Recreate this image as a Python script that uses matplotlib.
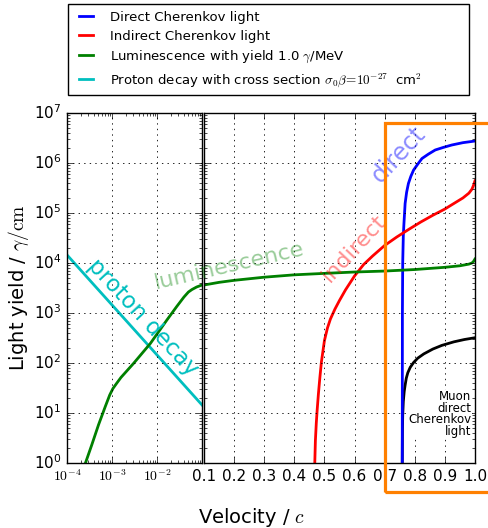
import matplotlib
matplotlib.use("Agg")
import matplotlib.pyplot as plt
from matplotlib.patches import Rectangle

plt.style.use("classic")
plt.rcParams["mathtext.fontset"] = "cm"
plt.rcParams["font.family"] = "DejaVu Sans"

# ---- data ----
# low-velocity panel (log velocity axis)
proton_v = [1e-4, 0.1]
proton_y = [1.45e4, 14.5]

lum_lo_v = [2.4e-4, 2.57e-4, 3.55e-4, 5.0e-4, 7.1e-4, 8.9e-4, 1.05e-3, 1.26e-3,
            1.58e-3, 3.0e-3, 7.1e-3, 1.66e-2, 2.75e-2, 3.98e-2, 5.0e-2, 6.0e-2,
            7.6e-2, 0.1]
lum_lo_y = [0.83, 1.0, 2.3, 5.75, 13.5, 22.9, 30.9, 38.9,
            51.3, 97.7, 245, 724, 1350, 2090, 2630, 2950,
            3310, 3630]

# high-velocity panel (linear velocity axis)
lum_hi_v = [0.1, 0.15, 0.2, 0.3, 0.4, 0.5, 0.6, 0.7, 0.8, 0.9,
            0.95, 0.98, 0.99, 0.995, 1.0]
lum_hi_y = [3630, 4100, 4500, 5200, 5800, 6200, 6600, 6900, 7400, 8200,
            8800, 9500, 10000, 10700, 12000]

indirect_v = [0.467, 0.468, 0.470, 0.473, 0.476, 0.480, 0.485, 0.49, 0.50,
              0.51, 0.52, 0.535, 0.55, 0.57, 0.60, 0.63, 0.66, 0.70, 0.74,
              0.78, 0.82, 0.86, 0.90, 0.93, 0.96, 0.98, 0.99, 0.995, 1.0]
indirect_y = [0.7, 1, 2.8, 6.3, 11.7, 24, 52, 105, 280,
              500, 760, 1200, 1780, 2900, 5500, 9300, 13800, 22400, 33000,
              47000, 66000, 90000, 1.2e5, 1.55e5, 2.0e5, 2.5e5, 3.0e5, 3.55e5, 4.4e5]

direct_v = [0.7585, 0.759, 0.760, 0.762, 0.764, 0.768, 0.773, 0.779, 0.787,
            0.796, 0.81, 0.824, 0.845, 0.868, 0.895, 0.923, 0.96, 1.0]
direct_y = [1, 1e3, 1e4, 3.5e4, 6e4, 1.55e5, 2.6e5, 3.9e5, 5.4e5,
            7.2e5, 9.5e5, 1.23e6, 1.5e6, 1.82e6, 2.05e6, 2.29e6, 2.55e6, 2.75e6]

muon_v = [0.7585, 0.759, 0.760, 0.762, 0.765, 0.768, 0.772, 0.777, 0.785,
          0.796, 0.81, 0.83, 0.86, 0.89, 0.93, 0.965, 1.0]
muon_y = [1, 4, 9, 17, 27, 36, 50, 64, 82,
          102, 125, 152, 190, 225, 265, 295, 320]

lo_ticks = [1e-4, 1e-3, 1e-2, 1e-1]
lo_ticklabels = [r"$10^{-4}$", r"$10^{-3}$", r"$10^{-2}$", ""]
hi_ticks = [0.1, 0.2, 0.3, 0.4, 0.5, 0.6, 0.7, 0.8, 0.9, 1.0]
hi_ticklabels = ["0.1", "0.2", "0.3", "0.4", "0.5", "0.6", "0.7", "0.8", "0.9", "1.0"]

legend_labels = [
    "Direct Cherenkov light",
    "Indirect Cherenkov light",
    r"Luminescence with yield 1.0 $\gamma$/MeV",
    r"Proton decay with cross section $\sigma_0\beta\!=\!10^{-27}\ $ cm$^2$",
]

fig = plt.figure(figsize=(4.88, 5.28), dpi=100, facecolor="w")
ax1 = fig.add_axes([0.1373, 0.1231, 0.2766, 0.6629])
ax2 = fig.add_axes([0.4180, 0.1231, 0.5553, 0.6629])

lw = 2.0

# left panel
l_prot, = ax1.plot(proton_v, proton_y, color="c", lw=lw)
ax1.plot(lum_lo_v, lum_lo_y, color="g", lw=lw)
ax1.set_xscale("log")
ax1.set_yscale("log")
ax1.set_xlim(1e-4, 0.1)
ax1.set_ylim(1, 1e7)
ax1.set_xticks(lo_ticks)
ax1.set_xticklabels(lo_ticklabels, fontsize=10)
ax1.tick_params(axis="y", labelsize=11)
ax1.grid(True, which="major", color="k", linestyle=":", linewidth=0.6)

# right panel
ax2.plot(muon_v, muon_y, color="k", lw=lw)
l_dir, = ax2.plot(direct_v, direct_y, color="b", lw=lw)
l_ind, = ax2.plot(indirect_v, indirect_y, color="r", lw=lw)
l_lum, = ax2.plot(lum_hi_v, lum_hi_y, color="g", lw=lw)
ax2.set_yscale("log")
ax2.set_xlim(0.1, 1.0)
ax2.set_ylim(1, 1e7)
ax2.set_xticks(hi_ticks)
ax2.set_xticklabels(hi_ticklabels, fontsize=11)
ax2.tick_params(axis="y", labelleft=False)
ax2.grid(True, which="major", color="k", linestyle=":", linewidth=0.6)

for ax in (ax1, ax2):
    ax.tick_params(which="both", direction="in", top=True, right=True)

# curve annotations
ax1.text(4.9e-3, 800, "proton decay", color="c", fontsize=16.5,
         rotation=-47, ha="center", va="center")
ax2.text(0.183, 8700, "luminescence", color="g", alpha=0.4, fontsize=16,
         rotation=13, ha="center", va="center")
ax2.text(0.6, 2e4, "indirect", color="r", alpha=0.45, fontsize=16,
         rotation=47, ha="center", va="center")
ax2.text(0.748, 1.5e6, "direct", color="b", alpha=0.45, fontsize=17,
         rotation=47, ha="center", va="center")
ax2.text(0.987, 9.5, "Muon\ndirect\nCherenkov\nlight", color="k", fontsize=8.5,
         ha="right", va="center", multialignment="right", linespacing=0.85,
         bbox=dict(facecolor="w", edgecolor="none", pad=0.5))

# axis labels
fig.text(0.037, 0.4545, r"Light yield / $\gamma/\mathrm{cm}$", fontsize=14,
         rotation=90, ha="center", va="center")
fig.text(0.516, 0.019, r"Velocity / $c$", fontsize=14, ha="center", va="center")

# legend
leg = fig.legend([l_dir, l_ind, l_lum, l_prot], legend_labels,
                 loc="upper left", bbox_to_anchor=(0.1393, 0.822, 0.8217, 0.170),
                 mode="expand", borderaxespad=0, fontsize=9.5, fancybox=False,
                 handlelength=1.7, handletextpad=1.0, labelspacing=0.45,
                 borderpad=0.5, frameon=True)
leg.get_frame().set_edgecolor("k")
leg.get_frame().set_linewidth(1.0)
for h in leg.get_lines():
    h.set_linewidth(2.0)

# highlight box
fig.add_artist(Rectangle((0.789, 0.0682), 0.3, 0.699, transform=fig.transFigure,
                         fill=False, edgecolor="#ff8000", linewidth=2.3,
                         clip_on=False, zorder=10))

fig.savefig("out.png", dpi=100, facecolor="w")
